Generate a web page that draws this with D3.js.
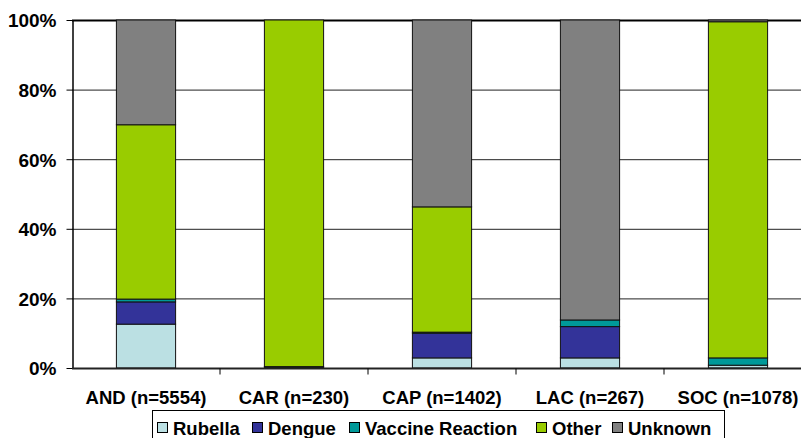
<!DOCTYPE html>
<html>
<head>
<meta charset="utf-8">
<script src="https://cdn.jsdelivr.net/npm/d3@7"></script>
<style>
  body { margin: 0; background: #fff; }
  text { font-family: "Liberation Sans", Arial, sans-serif; font-weight: bold; fill: #000; }
</style>
</head>
<body>
<div id="chart"></div>
<script>
const regions = ['AND (n=5554)', 'CAR (n=230)', 'CAP (n=1402)', 'LAC (n=267)', 'SOC (n=1078)'];
const causes = ['Rubella', 'Dengue', 'Vaccine Reaction', 'Other', 'Unknown'];
const colors = ['#BBE0E3', '#333399', '#009999', '#99CC00', '#808080'];

// percentages per region, in cause order
const rubella  = [12.6, 0,    2.9, 2.9, 0.8];
const dengue   = [6.4,  0.2,  7.1, 9.0, 0];
const vaccine  = [0.8,  0.2,  0.3, 1.9, 2.1];
const other    = [50.1, 99.6, 36.0, 0,   96.6];
const unknown  = [30.1, 0,    53.7, 86.2, 0.5];

const width = 801, height = 438;
const margin = {left: 72, top: 20, bottom: 70};
const plotH = height - margin.top - margin.bottom;

const rows = regions.map((r, i) => ({
  region: r,
  'Rubella': rubella[i], 'Dengue': dengue[i], 'Vaccine Reaction': vaccine[i],
  'Other': other[i], 'Unknown': unknown[i]
}));

const svg = d3.select('#chart').append('svg')
  .attr('width', width)
  .attr('height', height);

const x = d3.scaleBand()
  .domain(regions)
  .range([margin.left, margin.left + 740])
  .paddingInner(0.6)
  .paddingOuter(0.3);

const y = d3.scaleLinear()
  .domain([0, 100])
  .range([margin.top + plotH, margin.top]);

// gridlines
svg.append('g')
  .selectAll('line')
  .data(d3.range(20, 101, 20))
  .join('line')
  .attr('x1', margin.left)
  .attr('x2', width)
  .attr('y1', d => y(d) + 0.5)
  .attr('y2', d => y(d) + 0.5)
  .attr('stroke', d => d === 100 ? '#000' : '#222')
  .attr('stroke-width', d => d === 100 ? 2 : 1);

const stack = d3.stack().keys(causes);
const series = stack(rows);

svg.append('g')
  .selectAll('g')
  .data(series)
  .join('g')
  .attr('fill', (d, i) => colors[i])
  .selectAll('rect')
  .data(d => d)
  .join('rect')
  .attr('x', d => x(d.data.region))
  .attr('width', x.bandwidth())
  .attr('y', d => y(d[1]))
  .attr('height', d => y(d[0]) - y(d[1]))
  .attr('stroke', '#111')
  .attr('stroke-width', d => (d[1] - d[0]) > 0 ? 1 : 0);

// y axis
const yAxis = svg.append('g')
  .attr('transform', `translate(${margin.left + 0.5},0)`)
  .call(d3.axisLeft(y).tickValues(d3.range(0, 101, 20)).tickFormat(d => d + '%').tickSize(6).tickPadding(10).tickSizeOuter(0));
yAxis.select('.domain').attr('stroke', '#000').attr('stroke-width', 1.5);
yAxis.selectAll('.tick line').attr('stroke', '#000');
yAxis.selectAll('text').style('font-size', '19px').attr('dy', '0.36em');

// x axis
const xAxis = svg.append('g')
  .attr('transform', `translate(0,${y(0) + 0.5})`);
xAxis.append('line')
  .attr('x1', margin.left).attr('x2', width)
  .attr('stroke', '#222').attr('stroke-width', 2);
xAxis.selectAll('.sep')
  .data(regions.slice(1))
  .join('line')
  .attr('class', 'sep')
  .attr('x1', d => x(d) - x.step() * x.paddingInner() / 2)
  .attr('x2', d => x(d) - x.step() * x.paddingInner() / 2)
  .attr('y1', 0).attr('y2', 6)
  .attr('stroke', '#000');
xAxis.selectAll('.lbl')
  .data(regions)
  .join('text')
  .attr('class', 'lbl')
  .attr('x', d => x(d) + x.bandwidth() / 2)
  .attr('y', 35)
  .attr('text-anchor', 'middle')
  .style('font-size', '18.5px')
  .text(d => d);

// legend
const legend = svg.append('g');
legend.append('rect')
  .attr('x', 152.5).attr('y', 410.5)
  .attr('width', 572).attr('height', 34)
  .attr('fill', '#fff').attr('stroke', '#000');

const legendX = [157, 252, 349, 536, 612];
const item = legend.selectAll('.item')
  .data(causes)
  .join('g')
  .attr('class', 'item')
  .attr('transform', (d, i) => `translate(${legendX[i]},428)`);
item.append('rect')
  .attr('x', 0.5).attr('y', -5.5).attr('width', 10).attr('height', 10)
  .attr('fill', (d, i) => colors[i])
  .attr('stroke', '#000');
item.append('text')
  .attr('x', 16).attr('y', 6.5)
  .style('font-size', '18.5px')
  .text(d => d);
</script>
</body>
</html>
